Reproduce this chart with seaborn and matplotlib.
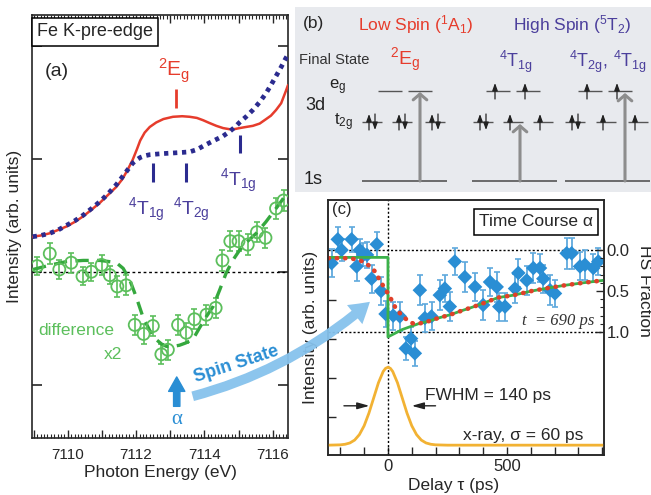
import matplotlib
matplotlib.use('Agg')
import matplotlib.pyplot as plt
import matplotlib.ticker as mticker
import matplotlib.transforms as mtransforms
from matplotlib.patches import FancyArrowPatch
import seaborn as sns

# ---------------- panel (a): Fe K pre-edge spectra ----------------
energy_grid = [7108.97, 7109.20, 7109.47, 7109.72, 7109.96, 7110.20, 7110.45, 7110.70,
               7110.94, 7111.18, 7111.42, 7111.60, 7111.75, 7111.90, 7112.02, 7112.12,
               7112.25, 7112.40, 7112.59, 7112.80, 7113.08, 7113.35, 7113.57, 7113.78,
               7113.96, 7114.15, 7114.35, 7114.55, 7114.74, 7114.90, 7115.03, 7115.22,
               7115.42, 7115.62, 7115.81, 7115.95, 7116.10, 7116.25, 7116.39, 7116.45]
low_spin_abs = [0.31, 0.32, 0.34, 0.37, 0.40, 0.44, 0.49, 0.55, 0.61, 0.68, 0.75, 0.82,
                0.90, 0.99, 1.08, 1.16, 1.23, 1.28, 1.32, 1.35, 1.37, 1.375, 1.37, 1.36,
                1.34, 1.315, 1.29, 1.27, 1.26, 1.262, 1.27, 1.28, 1.29, 1.31, 1.35, 1.38,
                1.43, 1.49, 1.60, 1.65]
high_spin_abs = [0.31, 0.32, 0.34, 0.37, 0.41, 0.45, 0.50, 0.56, 0.62, 0.69, 0.77, 0.84,
                 0.90, 0.96, 0.99, 1.01, 1.025, 1.035, 1.04, 1.045, 1.05, 1.055, 1.06, 1.08,
                 1.11, 1.14, 1.17, 1.20, 1.24, 1.28, 1.32, 1.37, 1.43, 1.50, 1.58, 1.65,
                 1.73, 1.81, 1.89, 1.92]

diff_energy = [7109.10, 7109.47, 7109.75, 7110.10, 7110.43, 7110.69, 7110.99, 7111.23,
               7111.45, 7111.71, 7111.96, 7112.22, 7112.49, 7112.74, 7112.93, 7113.23,
               7113.47, 7113.71, 7114.06, 7114.33, 7114.53, 7114.76, 7115.00, 7115.27,
               7115.54, 7115.79, 7116.10, 7116.32]
diff_signal = [0.05, 0.16, 0.02, 0.08, -0.04, 0.00, 0.06, -0.03, -0.13, -0.12, -0.47, -0.55,
               -0.48, -0.73, -0.69, -0.47, -0.54, -0.42, -0.38, -0.32, 0.10, 0.27, 0.27, 0.24,
               0.35, 0.30, 0.56, 0.63]
diff_err = [0.08, 0.09, 0.08, 0.09, 0.08, 0.08, 0.09, 0.08, 0.09, 0.09, 0.09, 0.09,
            0.09, 0.09, 0.09, 0.09, 0.09, 0.09, 0.09, 0.09, 0.09, 0.09, 0.09, 0.09,
            0.09, 0.09, 0.09, 0.09]

fit_energy = [7108.98, 7109.50, 7109.96, 7110.45, 7110.94, 7111.20, 7111.42, 7111.62,
              7111.81, 7112.00, 7112.20, 7112.40, 7112.59, 7112.75, 7112.89, 7113.08,
              7113.27, 7113.45, 7113.66, 7113.85, 7114.05, 7114.25, 7114.45, 7114.64,
              7114.83, 7115.03, 7115.27, 7115.52, 7115.80, 7116.00, 7116.20, 7116.43]
fit_signal = [0.02, 0.06, 0.09, 0.10, 0.10, 0.09, 0.08, 0.03, -0.07, -0.22, -0.40, -0.52,
              -0.60, -0.64, -0.66, -0.66, -0.65, -0.63, -0.60, -0.50, -0.40, -0.31, -0.16,
              -0.01, 0.10, 0.19, 0.27, 0.34, 0.44, 0.52, 0.60, 0.70]

ls_mark_x = [7113.18]
hs_mark_x = [7112.49, 7113.47, 7115.03]
hs_mark_lo = [0.79, 0.79, 1.05]
hs_mark_hi = [0.96, 0.96, 1.21]
hs_labels = [r'$^{4}\mathrm{T}_{\mathrm{1g}}$', r'$^{4}\mathrm{T}_{\mathrm{2g}}$',
             r'$^{4}\mathrm{T}_{\mathrm{1g}}$']
hs_label_x = [7112.31, 7113.63, 7115.00]
hs_label_y = [0.55, 0.55, 0.80]

# ---------------- panel (b): level scheme ----------------
t2g_centers = [[372, 402, 435], [483, 513, 543], [575, 606, 638]]
eg_centers = [[390, 420], [498, 528], [590, 620]]
core_span = [(362, 447), (472, 557), (565, 650)]
t2g_occ = [['ud', 'ud', 'ud'], ['ud', 'u', 'u'], ['ud', 'u', 'u']]
eg_occ = [['', ''], ['u', 'u'], ['u', 'u']]
excite_x = [420, 520, 625]
excite_top = [92, 124, 93]
level_y = {'eg': 91, 't2g': 122, '1s': 181}

# ---------------- panel (c): time course ----------------
delay_ps = [-237, -211, -195, -153, -132, -118, -104, -88, -69, -47, -29, -10, 22, 50, 75,
            97, 113, 134, 155, 183, 218, 239, 260, 281, 323, 366, 400, 429, 457, 468,
            492, 534, 548, 583, 611, 639, 653, 681, 702, 751, 772, 807, 828, 863, 884]
hs_fraction = [0.16, -0.13, 0.00, -0.13, 0.20, 0.00, 0.06, 0.06, 0.35, -0.07, 0.50, 0.78,
               0.80, 0.81, 1.20, 1.08, 1.26, 0.49, 0.83, 0.81, 0.55, 0.47, 0.69, 0.14,
               0.33, 0.45, 0.67, 0.39, 0.45, 0.69, 0.69, 0.47, 0.28, 0.37, 0.22, 0.22,
               0.35, 0.49, 0.53, 0.04, 0.04, 0.20, 0.18, 0.22, 0.14]
hs_err = [0.17, 0.15, 0.14, 0.15, 0.18, 0.14, 0.14, 0.16, 0.17, 0.15, 0.17, 0.16, 0.17,
          0.18, 0.14, 0.14, 0.15, 0.18, 0.17, 0.17, 0.18, 0.16, 0.18, 0.17, 0.18, 0.17,
          0.18, 0.17, 0.18, 0.17, 0.17, 0.18, 0.17, 0.18, 0.18, 0.17, 0.17, 0.18, 0.17,
          0.19, 0.19, 0.17, 0.18, 0.17, 0.17]

fit_delay = [-250, -200, -160, -125, -97, -76, -55, -34, -13, 8, 29, 50, 71, 92, 110, 127,
             169, 211, 261, 310, 352, 400, 463, 530, 604, 680, 744, 820, 905]
fit_hs = [0.10, 0.10, 0.10, 0.12, 0.15, 0.20, 0.26, 0.37, 0.47, 0.57, 0.69, 0.77, 0.83,
          0.88, 0.90, 0.90, 0.87, 0.83, 0.79, 0.74, 0.70, 0.65, 0.58, 0.55, 0.50, 0.46,
          0.43, 0.40, 0.37]
model_delay = [-250, 0, 0, 60, 127, 169, 211, 261, 310, 352, 400, 463, 530, 604, 680, 744,
               820, 905]
model_hs = [0.09, 0.09, 1.06, 0.97, 0.90, 0.87, 0.83, 0.79, 0.74, 0.70, 0.65, 0.58, 0.55,
            0.50, 0.46, 0.43, 0.40, 0.37]
xray_delay = [-250, -200, -180, -160, -140, -120, -100, -80, -60, -40, -20, -10, 0, 10, 20,
              40, 60, 80, 100, 120, 140, 160, 180, 200, 250, 905]
xray_level = [2.38, 2.376, 2.369, 2.353, 2.318, 2.251, 2.143, 1.989, 1.804, 1.619, 1.481,
              1.443, 1.43, 1.443, 1.481, 1.619, 1.804, 1.989, 2.143, 2.251, 2.318, 2.353,
              2.369, 2.376, 2.38, 2.38]

RED = '#e63c2c'
NAVY = '#2b2b8f'
PURPLE = '#4b3f9c'
GREEN = '#5cbf5c'
GREEN_D = '#35a83e'
SKY = '#2a8ed4'

sns.set_style('ticks')
plt.rcParams['font.family'] = ['Liberation Sans', 'DejaVu Sans']
plt.rcParams['mathtext.fontset'] = 'custom'
plt.rcParams['mathtext.rm'] = 'Liberation Sans'
plt.rcParams['mathtext.it'] = 'Liberation Sans:italic'
plt.rcParams['mathtext.bf'] = 'Liberation Sans:bold'
plt.rcParams['xtick.direction'] = 'in'
plt.rcParams['ytick.direction'] = 'in'

W, H = 651, 495
fig = plt.figure(figsize=(W / 100, H / 100), dpi=100)


def px_rect(x0, y0, x1, y1):
    return [x0 / W, 1 - y1 / H, (x1 - x0) / W, (y1 - y0) / H]


ax_a = fig.add_axes(px_rect(32, 15, 288, 438))
ax_b = fig.add_axes(px_rect(295, 7, 651, 192))
ax_c = fig.add_axes(px_rect(328, 200, 604, 455))

# ---- (a) ----
ax_a.axhline(0, color='k', lw=1, ls=(0, (2, 2)), zorder=1)
sns.lineplot(x=energy_grid, y=low_spin_abs, ax=ax_a, color=RED, lw=1.8,
             sort=False, estimator=None, zorder=3)
sns.lineplot(x=energy_grid, y=high_spin_abs, ax=ax_a, color=NAVY, lw=3.4,
             linestyle=(0, (0.9, 1.0)), sort=False, estimator=None, zorder=4)
sns.lineplot(x=fit_energy, y=fit_signal, ax=ax_a, color=GREEN_D, lw=2.4,
             linestyle=(0, (4, 2.5)), sort=False, estimator=None, zorder=5)
ax_a.errorbar(diff_energy, diff_signal, yerr=diff_err, fmt='none', ecolor=GREEN,
              elinewidth=1.2, capsize=2, capthick=1.2, zorder=4)
sns.scatterplot(x=diff_energy, y=diff_signal, ax=ax_a, marker='o', s=75,
                facecolor='none', edgecolor=GREEN, linewidth=1.3, zorder=6)

ax_a.vlines(ls_mark_x, 1.45, 1.62, color=RED, lw=2)
ax_a.vlines(hs_mark_x, hs_mark_lo, hs_mark_hi, color=NAVY, lw=2.2)
ax_a.text(7113.10, 1.78, r'$^{2}\mathrm{E}_{\mathrm{g}}$', color=RED, fontsize=15,
          ha='center', va='center')
for lab, x, y in zip(hs_labels, hs_label_x, hs_label_y):
    ax_a.text(x, y, lab, color=PURPLE, fontsize=14, ha='center', va='center')

ax_a.text(7109.68, 1.77, '(a)', fontsize=14, ha='center', va='center')
ax_a.text(0.246, 0.960, 'Fe K-pre-edge', transform=ax_a.transAxes, fontsize=13,
          ha='center', va='center',
          bbox=dict(boxstyle='square,pad=0.3', fc='white', ec='k', lw=1.1))
ax_a.text(7110.26, -0.52, 'difference', color=GREEN, fontsize=12.5,
          ha='center', va='center')
ax_a.text(7111.32, -0.73, 'x2', color=GREEN, fontsize=12.5, ha='center', va='center')
ax_a.text(7114.94, -0.82, 'Spin State', color=SKY, fontsize=13, fontweight='bold',
          rotation=18, ha='center', va='center')
ax_a.annotate('', xy=(7113.19, -0.93), xytext=(7113.19, -1.19),
              arrowprops=dict(arrowstyle='simple,head_width=0.9,head_length=0.8,tail_width=0.35',
                              color=SKY, mutation_scale=13, shrinkA=0, shrinkB=0))
ax_a.text(7113.19, -1.31, 'α', color=SKY, fontsize=15, ha='center', va='center',
          family=['Liberation Serif', 'DejaVu Serif'])

ax_a.set_xlim(7108.95, 7116.45)
ax_a.set_ylim(-1.47, 2.27)
ax_a.xaxis.set_major_locator(mticker.MultipleLocator(1))
ax_a.xaxis.set_minor_locator(mticker.MultipleLocator(0.1))
ax_a.xaxis.set_major_formatter(mticker.FuncFormatter(
    lambda v, p: f'{v:.0f}' if round(v) % 2 == 0 else ''))
ax_a.set_yticks([-1, 0, 1, 2])
ax_a.set_yticklabels([])
ax_a.tick_params(axis='x', which='major', top=True, length=6, width=1, labelsize=11, pad=7)
ax_a.tick_params(axis='x', which='minor', top=True, length=3, width=0.8)
ax_a.tick_params(axis='y', right=True, length=7, width=1.2)
ax_a.set_xlabel('Photon Energy (eV)', fontsize=12.5, labelpad=2)
ax_a.set_ylabel('Intensity (arb. units)', fontsize=12.5, labelpad=4)
for sp in ax_a.spines.values():
    sp.set_linewidth(1.2)

# ---- (b) ----
ax_b.set_facecolor('#e8eaee')
ax_b.set_xlim(295, 651)
ax_b.set_ylim(192, 7)
ax_b.set_xticks([])
ax_b.set_yticks([])
for sp in ax_b.spines.values():
    sp.set_visible(False)

LEVEL = '#555555'


def spin(x, y, up):
    y0, y1 = (y + 8, y - 8) if up else (y - 8, y + 8)
    ax_b.annotate('', xy=(x, y1), xytext=(x, y0),
                  arrowprops=dict(arrowstyle='-|>,head_width=0.2,head_length=0.55',
                                  color='#222222', lw=0.9, mutation_scale=8,
                                  shrinkA=0, shrinkB=0))


for g in range(3):
    for cx, occ in zip(t2g_centers[g], t2g_occ[g]):
        ax_b.hlines(level_y['t2g'], cx - 10, cx + 10, color=LEVEL, lw=1.0)
        if occ == 'ud':
            spin(cx - 3, level_y['t2g'], True)
            spin(cx + 3, level_y['t2g'], False)
        elif occ == 'u':
            spin(cx - 3, level_y['t2g'], True)
    for cx, occ in zip(eg_centers[g], eg_occ[g]):
        ax_b.hlines(level_y['eg'], cx - 12, cx + 12, color=LEVEL, lw=1.0)
        if occ == 'u':
            spin(cx - 3, level_y['eg'], True)
    ax_b.hlines(level_y['1s'], core_span[g][0], core_span[g][1], color=LEVEL, lw=1.2)
    ax_b.annotate('', xy=(excite_x[g], excite_top[g]), xytext=(excite_x[g], level_y['1s']),
                  arrowprops=dict(arrowstyle='->,head_width=0.35,head_length=0.3',
                                  color='#8d8d8d', lw=2.2, mutation_scale=14,
                                  shrinkA=0, shrinkB=0))

ax_b.text(313, 23, '(b)', fontsize=12.5, ha='center', va='center')
ax_b.text(416, 25, r'Low Spin ($^{1}$A$_{1}$)', color=RED, fontsize=12.5,
          ha='center', va='center')
ax_b.text(572, 25, r'High Spin ($^{5}$T$_{2}$)', color=PURPLE, fontsize=12.5,
          ha='center', va='center')
ax_b.text(334, 60, 'Final State', color='#333333', fontsize=10.5, ha='center', va='center')
ax_b.text(405, 60, r'$^{2}\mathrm{E}_{\mathrm{g}}$', color=RED, fontsize=14,
          ha='center', va='center')
ax_b.text(516, 62, r'$^{4}\mathrm{T}_{\mathrm{1g}}$', color=PURPLE, fontsize=13,
          ha='center', va='center')
ax_b.text(608, 62, r'$^{4}\mathrm{T}_{\mathrm{2g}},\,^{4}\mathrm{T}_{\mathrm{1g}}$',
          color=PURPLE, fontsize=13, ha='center', va='center')
ax_b.text(338, 87, r'e$_{\mathrm{g}}$', fontsize=12, ha='center', va='center', color='#222')
ax_b.text(315, 105, '3d', fontsize=13, ha='center', va='center', color='#222')
ax_b.text(343, 122, r't$_{\mathrm{2g}}$', fontsize=12, ha='center', va='center', color='#222')
ax_b.text(313, 180, '1s', fontsize=13, ha='center', va='center', color='#222')

# ---- (c) ----
ax_c.axhline(0, color='k', lw=1, ls=(0, (1.5, 1.5)), zorder=1)
ax_c.axhline(1, color='k', lw=1, ls=(0, (1.5, 1.5)), zorder=1)
ax_c.axvline(0, color='k', lw=1, ls=(0, (1.5, 1.5)), zorder=1)
ax_c.errorbar(delay_ps, hs_fraction, yerr=hs_err, fmt='none', ecolor='#5fa9dd',
              elinewidth=1.3, capsize=2.5, capthick=1.2, zorder=3)
sns.scatterplot(x=delay_ps, y=hs_fraction, ax=ax_c, marker='D', s=55, color=SKY,
                edgecolor='none', zorder=4)
sns.lineplot(x=model_delay, y=model_hs, ax=ax_c, color='#3bb14a', lw=2,
             sort=False, estimator=None, zorder=5)
sns.lineplot(x=fit_delay, y=fit_hs, ax=ax_c, color='#e0402a', lw=3.3,
             linestyle=(0, (0.1, 1.7)), dash_capstyle='round',
             sort=False, estimator=None, zorder=6)
sns.lineplot(x=xray_delay, y=xray_level, ax=ax_c, color='#f2b233', lw=2,
             sort=False, estimator=None, zorder=5)

ax_c.annotate('', xy=(-78, 1.90), xytext=(-185, 1.90),
              arrowprops=dict(arrowstyle='-|>,head_width=0.25,head_length=0.9',
                              color='#222', lw=1, mutation_scale=8, shrinkA=0, shrinkB=0))
ax_c.annotate('', xy=(100, 1.90), xytext=(200, 1.90),
              arrowprops=dict(arrowstyle='-|>,head_width=0.25,head_length=0.9',
                              color='#222', lw=1, mutation_scale=8, shrinkA=0, shrinkB=0))
ax_c.text(155, 1.77, 'FWHM = 140 ps', fontsize=12.5, ha='left', va='center')
ax_c.text(315, 2.26, 'x-ray, σ = 60 ps', fontsize=12.5, ha='left', va='center')
ax_c.text(714, 0.87, 't  = 690 ps', fontsize=12, ha='center', va='center',
          family='Liberation Serif', style='italic', color='#333')
ax_c.text(-195, -0.50, '(c)', fontsize=12, ha='center', va='center')
ax_c.text(0.754, 0.914, 'Time Course α', transform=ax_c.transAxes, fontsize=12.5,
          ha='center', va='center',
          bbox=dict(boxstyle='square,pad=0.3', fc='white', ec='k', lw=1.1))

ax_c.set_xlim(-252, 908)
ax_c.set_ylim(2.50, -0.61)
ax_c.set_xticks([0, 500])
ax_c.xaxis.set_minor_locator(mticker.MultipleLocator(100))
ax_c.set_yticks([0.61, 1.09, 1.56, 2.04])
ax_c.set_yticklabels([])
ax_c.tick_params(axis='x', which='both', length=6, width=1, labelsize=12, pad=3)
ax_c.tick_params(axis='y', right=True, length=6, width=1)
ax_c.set_xlabel('Delay τ (ps)', fontsize=12.5)
ax_c.xaxis.set_label_coords(0.455, -0.092)
ax_c.set_ylabel('Intensity (arb. units)', fontsize=12.5, labelpad=4)

twin = ax_c.twinx()
twin.set_ylim(2.50, -0.61)
twin.set_yticks([0, 0.5, 1.0])
twin.set_yticklabels(['0.0', '0.5', '1.0'])
twin.yaxis.set_minor_locator(mticker.FixedLocator([0.1, 0.2, 0.3, 0.4, 0.6, 0.7, 0.8, 0.9]))
twin.tick_params(axis='y', which='major', length=6, width=1, labelsize=12, pad=2)
twin.tick_params(axis='y', which='minor', length=3, width=0.8)
twin.text(1.145, 0.5, 'HS Fraction', fontsize=12.5, rotation=270, ha='center', va='center',
          transform=mtransforms.blended_transform_factory(twin.transAxes, twin.transData))
for a in (ax_c, twin):
    for sp in a.spines.values():
        sp.set_linewidth(1.1)

# big curved arrow linking (a) and (c)
fig.add_artist(FancyArrowPatch(
    posA=(190 / W, 1 - 397 / H), posB=(372 / W, 1 - 300 / H),
    transform=fig.transFigure, connectionstyle='arc3,rad=0.12',
    arrowstyle='simple,head_width=0.8,head_length=0.65,tail_width=0.32',
    mutation_scale=22, color='#86c2ec', alpha=0.95, zorder=10, lw=0))

fig.savefig('out.png', dpi=100)
